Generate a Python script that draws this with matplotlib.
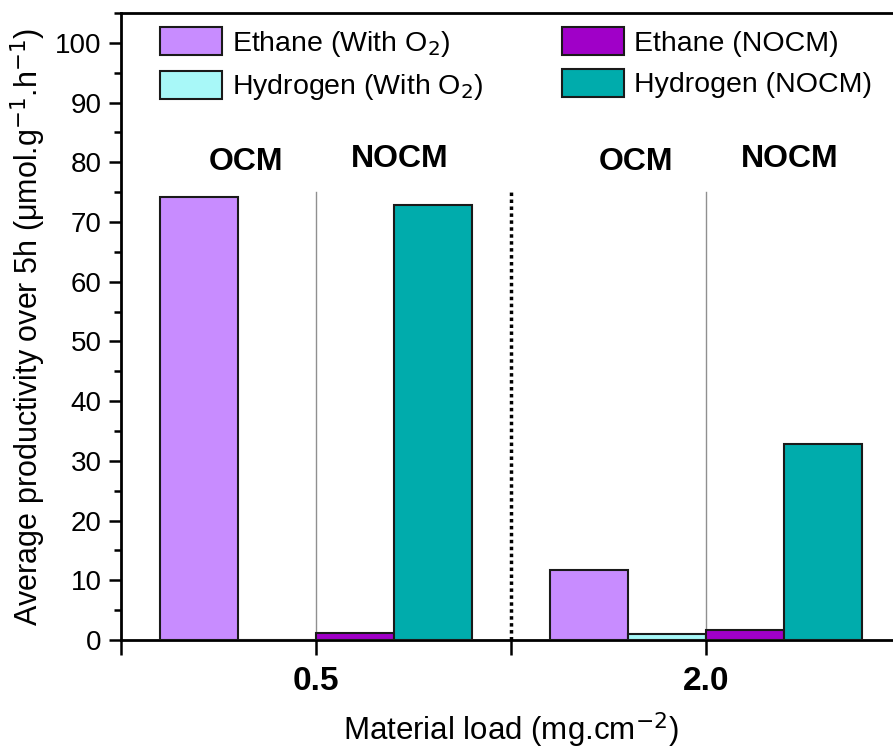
import matplotlib
matplotlib.use("Agg")
import matplotlib.pyplot as plt
from matplotlib.ticker import MultipleLocator, FixedLocator
import numpy as np

plt.rcParams['font.family'] = ['Liberation Sans', 'DejaVu Sans']

loads = ["0.5", "2.0"]
series = ["Ethane (With O$_2$)", "Hydrogen (With O$_2$)", "Ethane (NOCM)", "Hydrogen (NOCM)"]
ethane_o2 = [74.2, 11.8]
hydrogen_o2 = [0.0, 1.05]
ethane_nocm = [1.2, 1.7]
hydrogen_nocm = [72.8, 32.9]
colors = ["#C88CFF", "#A8F8F8", "#A000C8", "#00ACAC"]

fig = plt.figure(figsize=(8.93, 7.51), dpi=100)
ax = fig.add_axes([121 / 893, 111 / 751, 780 / 893, 627 / 751])

centers = np.array([1, 3])
w = 0.4
values = [ethane_o2, hydrogen_o2, ethane_nocm, hydrogen_nocm]
for i, (vals, lab, c) in enumerate(zip(values, series, colors)):
    ax.bar(centers + (i - 1.5) * w, vals, width=w, color=c, edgecolor="#1a1a1a",
           linewidth=1.5, label=lab, zorder=3)

# separators between OCM / NOCM and between loads
for xc in centers:
    ax.plot([xc, xc], [0, 75], color="#909090", lw=1.0, zorder=2)
ax.plot([2, 2], [0, 75], color="black", lw=2.5, ls=(0, (1, 1)), zorder=2)

for xc in centers:
    ax.text(xc - 0.36, 80, "OCM", ha="center", va="center", fontsize=23, fontweight="bold")
    ax.text(xc + 0.43, 80.6, "NOCM", ha="center", va="center", fontsize=23, fontweight="bold")

ax.set_xlim(0, 4)
ax.set_ylim(0, 105)
ax.xaxis.set_major_locator(FixedLocator([0, 1, 2, 3]))
ax.set_xticklabels(["", loads[0], "", loads[1]], fontsize=24, fontweight="bold")
ax.yaxis.set_major_locator(MultipleLocator(10))
ax.yaxis.set_minor_locator(MultipleLocator(5))
ax.tick_params(axis="y", which="major", direction="out", length=9, width=1.8, labelsize=20, pad=5)
ax.tick_params(axis="y", which="minor", direction="out", length=5, width=1.8)
ax.tick_params(axis="x", which="major", direction="out", length=11, width=1.8, pad=8)

for s in ["left", "bottom", "top"]:
    ax.spines[s].set_linewidth(2)
ax.spines["right"].set_visible(False)

ax.set_ylabel("Average productivity over 5h (\u03bcmol.g$^{-1}$.h$^{-1}$)", fontsize=22, labelpad=5)
ax.set_xlabel("Material load (mg.cm$^{-2}$)", fontsize=22.5)
ax.xaxis.label.set_va("baseline")
ax.xaxis.set_label_coords(0.5, -0.160)

ax.legend(loc="upper left", bbox_to_anchor=(0.05, 0.978), ncol=2, frameon=False,
          fontsize=20.5, handlelength=2.18, handleheight=1.15, handletextpad=0.35,
          columnspacing=2.75, labelspacing=0.42, borderaxespad=0, borderpad=0)

fig.savefig("out.png", dpi=100)
